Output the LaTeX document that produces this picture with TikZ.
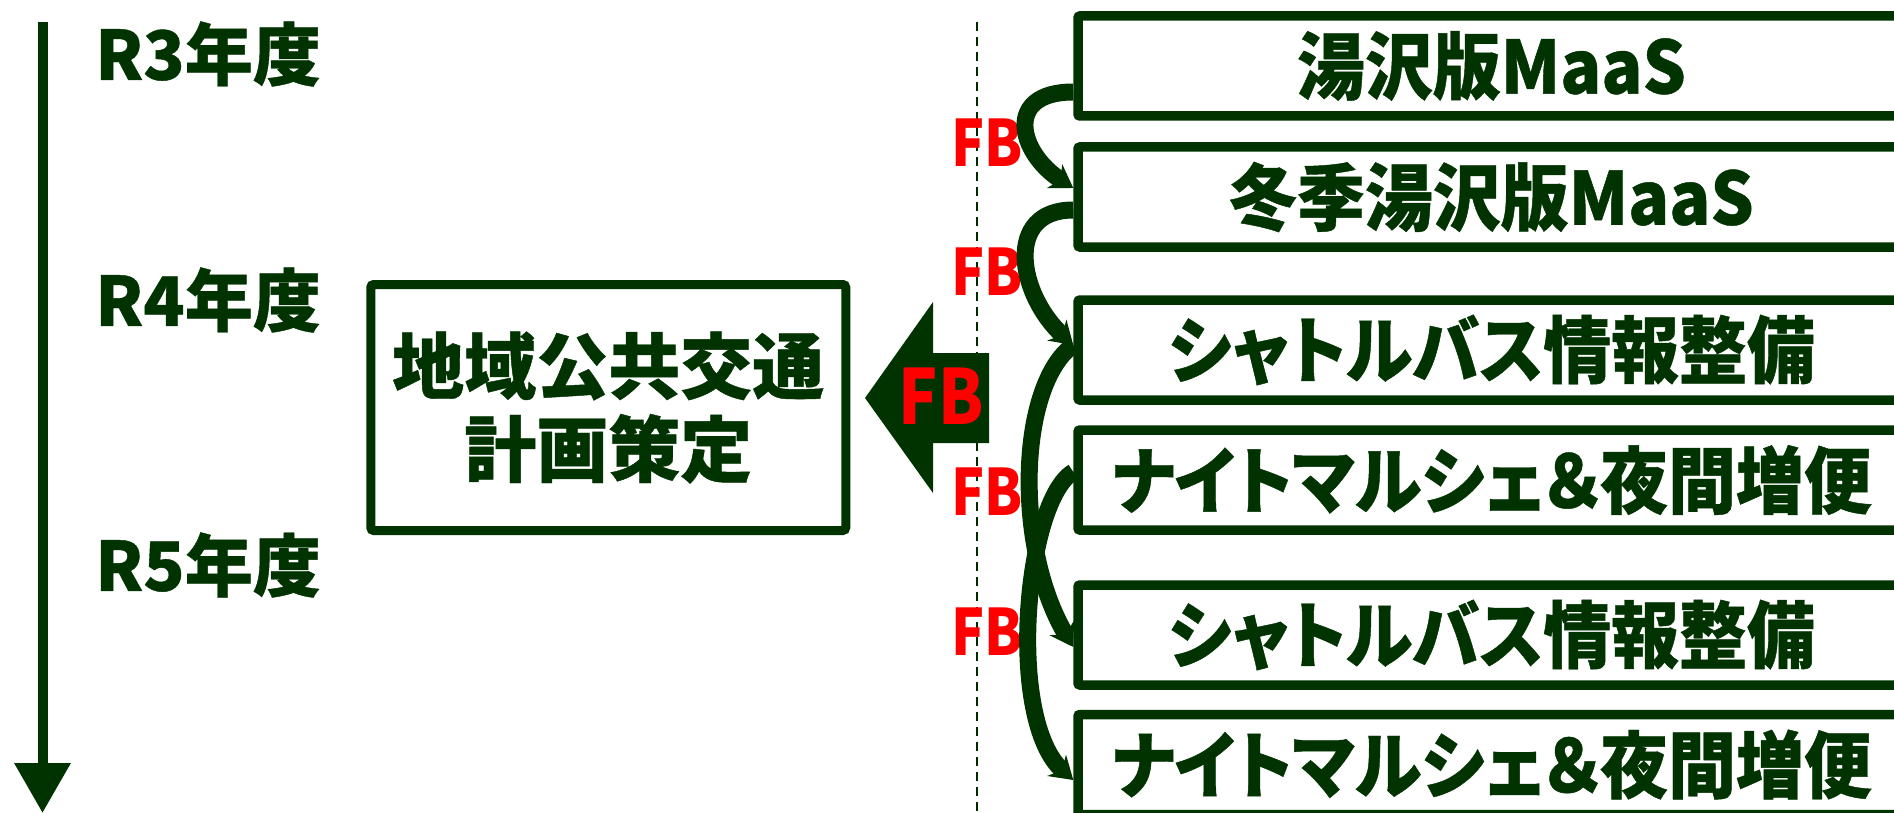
\documentclass[tikz,border=0pt]{standalone}
\usepackage{fontspec}
\setmainfont{Noto Sans CJK JP}[RawFeature=+palt, FakeBold=0.6]
\newfontfamily\boxfont{Noto Sans CJK JP}[RawFeature=+palt, FakeStretch=0.93, FakeBold=0.6]
\newfontfamily\fbfont{Noto Sans CJK JP}[FakeStretch=0.86]
\usetikzlibrary{arrows.meta,calc}
\definecolor{dg}{RGB}{0,51,0}
\definecolor{fbred}{RGB}{255,0,0}
\begin{document}
\begin{tikzpicture}[x=1pt,y=-1pt,
  yearlbl/.style={font=\bfseries\fontsize{68}{72}\selectfont, text=dg, anchor=west, inner sep=0pt},
  itembox/.style={draw=dg, line width=9.5pt, minimum width=827pt, minimum height=100pt, inner sep=0pt,
     font=\boxfont\bfseries\fontsize{73}{76}\selectfont, text=dg, rounded corners=2pt},
  planbox/.style={draw=dg, line width=9pt, minimum width=475pt, minimum height=246pt, inner sep=0pt,
     font=\bfseries\fontsize{72}{83}\selectfont, text=dg, align=center, rounded corners=3pt},
  fblbl/.style={font=\fbfont\bfseries\fontsize{64}{64}\selectfont, text=fbred, inner sep=0pt},
  fbcurve/.style={draw=dg, line width=17pt, -{Stealth[length=22pt,width=28pt]}},
]
\useasboundingbox (0,0) rectangle (1894,813);

% timeline
\coordinate (tltop) at (42.5,22);
\coordinate (tlbot) at (42.5,813);
\draw[dg, line width=10pt, -{Triangle[length=50pt,width=54pt]}] (tltop) -- (tlbot);
\node[yearlbl] (r3) at (95,54) {R3年度};
\node[yearlbl] (r4) at (95,300) {R4年度};
\node[yearlbl] (r5) at (95,565) {R5年度};

% plan box
\node[planbox] (plan) at (608.25,407.5) {地域公共交通\\計画策定};

% dashed divider
\coordinate (dtop) at (976.5,22);
\coordinate (dbot) at (976.5,813);
\draw[dg!80!black, line width=2pt, dash pattern=on 9pt off 6pt] (dtop) -- (dbot);

% big FB arrow
\coordinate (ft) at (865,398);
\fill[dg] (ft) -- (933,302) -- (933,353) -- (989,353) -- (989,443) -- (933,443) -- (933,493) -- cycle;
\node[font=\fbfont\bfseries\fontsize{76}{76}\selectfont, text=fbred, inner sep=0pt] (fbbig) at (941,396) {FB};

% item boxes
\node[itembox] (b1) at (1491.5,66) {湯沢版MaaS};
\node[itembox] (b2) at (1491.5,197) {冬季湯沢版MaaS};
\node[itembox] (b3) at (1491.5,350) {シャトルバス情報整備};
\node[itembox] (b4) at (1491.5,480) {ナイトマルシェ＆夜間増便};
\node[itembox] (b5) at (1491.5,635) {シャトルバス情報整備};
\node[itembox] (b6) at (1491.5,764.5) {ナイトマルシェ＆夜間増便};

% FB labels
\node[fblbl] (fb1) at (987,143) {FB};
\node[fblbl] (fb2) at (987,272) {FB};
\node[fblbl] (fb3) at (987,492) {FB};
\node[fblbl] (fb4) at (987,632) {FB};

% feedback curves
\draw[fbcurve] ($(b1.west)+(0,26)$) .. controls +(-70,0) and +(-55,-35) .. ($(b2.west)+(0,-9)$);
\draw[fbcurve] ($(b2.west)+(0,13)$) .. controls +(-70,0) and +(-55,-50) .. ($(b3.west)+(0,-5)$);
\draw[fbcurve] ($(b3.west)+(0,-5)$) .. controls +(-55,40) and +(-60,-100) .. ($(b5.west)+(0,12)$);
\draw[fbcurve] ($(b4.west)+(0,-8)$) .. controls +(-48,28) and +(-68,-60) .. ($(b6.west)+(0,15.5)$);
\end{tikzpicture}
\end{document}
